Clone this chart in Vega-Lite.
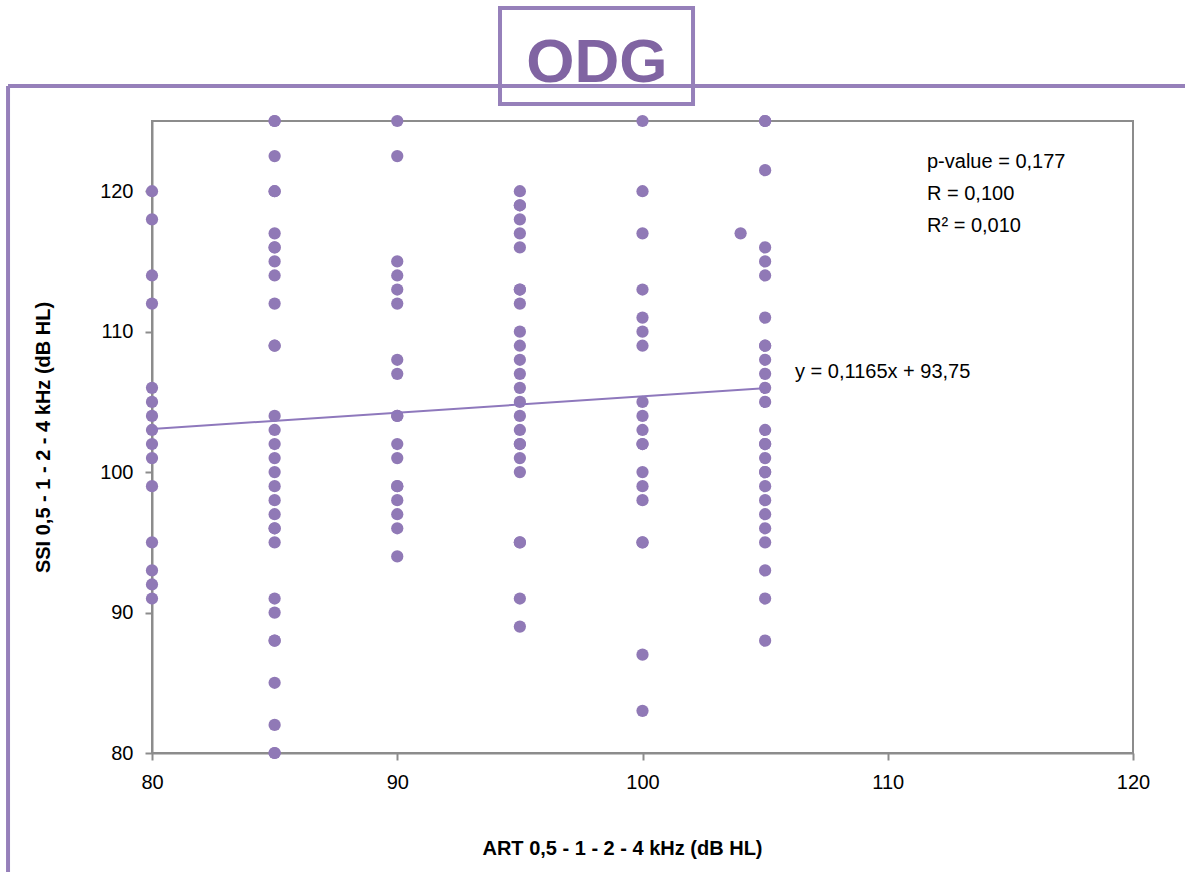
{
  "$schema": "https://vega.github.io/schema/vega-lite/v6.json",
  "width": 981,
  "height": 632,
  "autosize": {"type": "none"},
  "padding": {"left": 152, "top": 121, "right": 52, "bottom": 119},
  "background": "white",
  "config": {
    "font": "Liberation Sans",
    "view": {"stroke": "#8c8c8c", "strokeWidth": 2},
    "axis": {"domainColor": "#8c8c8c", "domainWidth": 2, "tickColor": "#8c8c8c", "tickWidth": 2, "tickSize": 7, "labelFont": "Liberation Sans", "labelFontSize": 20, "labelColor": "#000000", "labelPadding": 12, "labelFlush": false, "titleFont": "Liberation Sans", "titleFontSize": 20, "titleFontWeight": "bold", "titleColor": "#000000", "grid": false}
  },
  "datasets": {
    "points": [
      {"art": 80, "ssi": 120}, {"art": 80, "ssi": 118}, {"art": 80, "ssi": 114}, {"art": 80, "ssi": 112}, {"art": 80, "ssi": 106}, {"art": 80, "ssi": 105}, {"art": 80, "ssi": 104}, {"art": 80, "ssi": 103}, {"art": 80, "ssi": 102}, {"art": 80, "ssi": 101}, {"art": 80, "ssi": 99}, {"art": 80, "ssi": 95}, {"art": 80, "ssi": 93}, {"art": 80, "ssi": 92}, {"art": 80, "ssi": 91},
      {"art": 85, "ssi": 125}, {"art": 85, "ssi": 125}, {"art": 85, "ssi": 122.5}, {"art": 85, "ssi": 120}, {"art": 85, "ssi": 120}, {"art": 85, "ssi": 117}, {"art": 85, "ssi": 116}, {"art": 85, "ssi": 116}, {"art": 85, "ssi": 115}, {"art": 85, "ssi": 114}, {"art": 85, "ssi": 112}, {"art": 85, "ssi": 109}, {"art": 85, "ssi": 109}, {"art": 85, "ssi": 104}, {"art": 85, "ssi": 103}, {"art": 85, "ssi": 102}, {"art": 85, "ssi": 101}, {"art": 85, "ssi": 100}, {"art": 85, "ssi": 99}, {"art": 85, "ssi": 98}, {"art": 85, "ssi": 97}, {"art": 85, "ssi": 96}, {"art": 85, "ssi": 96}, {"art": 85, "ssi": 95}, {"art": 85, "ssi": 91}, {"art": 85, "ssi": 90}, {"art": 85, "ssi": 88}, {"art": 85, "ssi": 88}, {"art": 85, "ssi": 85}, {"art": 85, "ssi": 82}, {"art": 85, "ssi": 80}, {"art": 85, "ssi": 80},
      {"art": 90, "ssi": 125}, {"art": 90, "ssi": 122.5}, {"art": 90, "ssi": 115}, {"art": 90, "ssi": 114}, {"art": 90, "ssi": 113}, {"art": 90, "ssi": 112}, {"art": 90, "ssi": 108}, {"art": 90, "ssi": 107}, {"art": 90, "ssi": 104}, {"art": 90, "ssi": 104}, {"art": 90, "ssi": 102}, {"art": 90, "ssi": 101}, {"art": 90, "ssi": 99}, {"art": 90, "ssi": 99}, {"art": 90, "ssi": 98}, {"art": 90, "ssi": 97}, {"art": 90, "ssi": 96}, {"art": 90, "ssi": 94},
      {"art": 95, "ssi": 120}, {"art": 95, "ssi": 119}, {"art": 95, "ssi": 119}, {"art": 95, "ssi": 118}, {"art": 95, "ssi": 117}, {"art": 95, "ssi": 116}, {"art": 95, "ssi": 113}, {"art": 95, "ssi": 113}, {"art": 95, "ssi": 112}, {"art": 95, "ssi": 110}, {"art": 95, "ssi": 109}, {"art": 95, "ssi": 108}, {"art": 95, "ssi": 107}, {"art": 95, "ssi": 106}, {"art": 95, "ssi": 105}, {"art": 95, "ssi": 104}, {"art": 95, "ssi": 103}, {"art": 95, "ssi": 102}, {"art": 95, "ssi": 102}, {"art": 95, "ssi": 101}, {"art": 95, "ssi": 100}, {"art": 95, "ssi": 95}, {"art": 95, "ssi": 95}, {"art": 95, "ssi": 91}, {"art": 95, "ssi": 89},
      {"art": 100, "ssi": 125}, {"art": 100, "ssi": 120}, {"art": 100, "ssi": 117}, {"art": 100, "ssi": 113}, {"art": 100, "ssi": 111}, {"art": 100, "ssi": 110}, {"art": 100, "ssi": 109}, {"art": 100, "ssi": 105}, {"art": 100, "ssi": 104}, {"art": 100, "ssi": 103}, {"art": 100, "ssi": 102}, {"art": 100, "ssi": 102}, {"art": 100, "ssi": 100}, {"art": 100, "ssi": 99}, {"art": 100, "ssi": 98}, {"art": 100, "ssi": 95}, {"art": 100, "ssi": 95}, {"art": 100, "ssi": 87}, {"art": 100, "ssi": 83},
      {"art": 104, "ssi": 117},
      {"art": 105, "ssi": 125}, {"art": 105, "ssi": 125}, {"art": 105, "ssi": 121.5}, {"art": 105, "ssi": 116}, {"art": 105, "ssi": 115}, {"art": 105, "ssi": 114}, {"art": 105, "ssi": 111}, {"art": 105, "ssi": 109}, {"art": 105, "ssi": 109}, {"art": 105, "ssi": 108}, {"art": 105, "ssi": 107}, {"art": 105, "ssi": 106}, {"art": 105, "ssi": 105}, {"art": 105, "ssi": 103}, {"art": 105, "ssi": 102}, {"art": 105, "ssi": 102}, {"art": 105, "ssi": 101}, {"art": 105, "ssi": 100}, {"art": 105, "ssi": 100}, {"art": 105, "ssi": 99}, {"art": 105, "ssi": 98}, {"art": 105, "ssi": 97}, {"art": 105, "ssi": 96}, {"art": 105, "ssi": 95}, {"art": 105, "ssi": 93}, {"art": 105, "ssi": 91}, {"art": 105, "ssi": 88}
    ],
    "trend": [
      {"art": 80, "ssi": 103.07},
      {"art": 105, "ssi": 105.98}
    ],
    "one": [{}]
  },
  "layer": [
    {
      "data": {"name": "one"},
      "mark": {"type": "rule", "color": "#9680BA", "strokeWidth": 4, "clip": false},
      "encoding": {
        "x": {"datum": 74.13, "type": "quantitative", "scale": {"domain": [80, 120], "nice": false, "zero": false}},
        "y": {"datum": 127.49, "type": "quantitative", "scale": {"domain": [80, 125], "nice": false, "zero": false}},
        "y2": {"datum": 70}
      }
    },
    {
      "data": {"name": "one"},
      "mark": {"type": "rule", "color": "#9680BA", "strokeWidth": 4, "clip": false},
      "encoding": {
        "x": {"datum": 74.13, "type": "quantitative", "scale": {"domain": [80, 120], "nice": false, "zero": false}},
        "x2": {"datum": 124},
        "y": {"datum": 127.49, "type": "quantitative", "scale": {"domain": [80, 125], "nice": false, "zero": false}}
      }
    },
    {
      "data": {"name": "one"},
      "mark": {"type": "rect", "fillOpacity": 0, "stroke": "#9680BA", "strokeWidth": 4, "clip": false},
      "encoding": {
        "x": {"datum": 94.19, "type": "quantitative", "scale": {"domain": [80, 120], "nice": false, "zero": false}},
        "x2": {"datum": 102.06},
        "y": {"datum": 133.05, "type": "quantitative", "scale": {"domain": [80, 125], "nice": false, "zero": false}},
        "y2": {"datum": 126.21}
      }
    },
    {
      "data": {"name": "one"},
      "mark": {"type": "text", "align": "center", "baseline": "alphabetic", "fontSize": 62, "fontWeight": "bold", "font": "Liberation Sans", "color": "#8064A2", "clip": false},
      "encoding": {
        "x": {"datum": 98.14, "type": "quantitative", "scale": {"domain": [80, 120], "nice": false, "zero": false}},
        "y": {"datum": 127.78, "type": "quantitative", "scale": {"domain": [80, 125], "nice": false, "zero": false}},
        "text": {"value": "ODG"}
      }
    },
    {
      "data": {"name": "points"},
      "mark": {"type": "circle", "size": 150, "color": "#9079B6", "opacity": 1},
      "encoding": {
        "x": {"field": "art", "type": "quantitative", "scale": {"domain": [80, 120], "nice": false, "zero": false}, "axis": {"values": [80, 90, 100, 110, 120], "titlePadding": 46, "titleX": 470}, "title": "ART 0,5 - 1 - 2 - 4 kHz (dB HL)"},
        "y": {"field": "ssi", "type": "quantitative", "scale": {"domain": [80, 125], "nice": false, "zero": false}, "axis": {"values": [80, 90, 100, 110, 120], "titlePadding": 46}, "title": "SSI 0,5 - 1 - 2 - 4 kHz (dB HL)"}
      }
    },
    {
      "data": {"name": "trend"},
      "mark": {"type": "line", "color": "#8E78BC", "strokeWidth": 2},
      "encoding": {
        "x": {"field": "art", "type": "quantitative", "scale": {"domain": [80, 120], "nice": false, "zero": false}},
        "y": {"field": "ssi", "type": "quantitative", "scale": {"domain": [80, 125], "nice": false, "zero": false}}
      }
    },
    {
      "data": {"name": "one"},
      "mark": {"type": "text", "align": "left", "baseline": "middle", "fontSize": 20, "font": "Liberation Sans", "color": "#000000"},
      "encoding": {
        "x": {"datum": 106.22, "type": "quantitative", "scale": {"domain": [80, 120], "nice": false, "zero": false}},
        "y": {"datum": 107.13, "type": "quantitative", "scale": {"domain": [80, 125], "nice": false, "zero": false}},
        "text": {"value": "y = 0,1165x + 93,75"}
      }
    },
    {
      "data": {"name": "one"},
      "mark": {"type": "text", "align": "left", "baseline": "middle", "fontSize": 20, "font": "Liberation Sans", "color": "#000000", "lineHeight": 32},
      "encoding": {
        "x": {"datum": 111.6, "type": "quantitative", "scale": {"domain": [80, 120], "nice": false, "zero": false}},
        "y": {"datum": 122.08, "type": "quantitative", "scale": {"domain": [80, 125], "nice": false, "zero": false}},
        "text": {"value": ["p-value = 0,177", "R = 0,100", "R² = 0,010"]}
      }
    }
  ]
}
